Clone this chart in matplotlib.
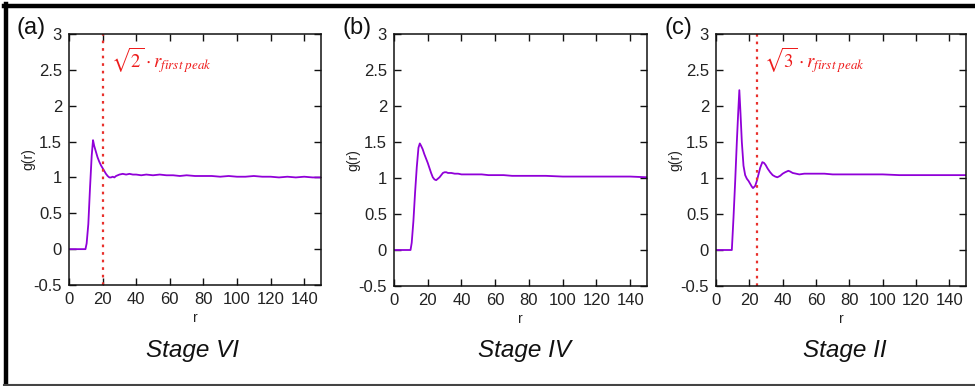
import matplotlib
matplotlib.use("Agg")
import matplotlib.pyplot as plt
from matplotlib.lines import Line2D

plt.rcParams['font.family'] = ['Liberation Sans', 'DejaVu Sans']
plt.rcParams['mathtext.fontset'] = 'stix'

# radial distribution functions g(r) for three stages
r_a = [0, 9.8, 10.5, 11.5, 12.5, 13.5, 14.3, 15, 16, 17, 18, 19, 20, 21, 22, 23, 24, 25,
       26, 27, 28, 30, 32, 34, 36, 38, 40, 43, 46, 50, 54, 58, 62, 66, 70, 75, 80, 85,
       90, 95, 100, 105, 110, 115, 120, 125, 130, 135, 140, 145, 150]
g_a = [0, 0, 0.08, 0.35, 0.85, 1.30, 1.52, 1.44, 1.36, 1.28, 1.22, 1.17, 1.13, 1.09, 1.05,
       1.02, 1.00, 1.00, 1.01, 1.00, 1.02, 1.04, 1.05, 1.04, 1.05, 1.04, 1.04, 1.03, 1.04,
       1.03, 1.04, 1.03, 1.03, 1.02, 1.03, 1.02, 1.02, 1.02, 1.01, 1.02, 1.01, 1.01, 1.02,
       1.01, 1.01, 1.00, 1.01, 1.00, 1.01, 1.00, 1.00]

r_b = [0, 9.8, 10.5, 11.5, 12.5, 13.5, 14.5, 15.3, 16, 17, 18, 19, 20, 21, 22, 23, 24, 25,
       26, 27, 28, 29, 30, 31, 32, 34, 36, 38, 40, 44, 48, 52, 56, 60, 65, 70, 75, 80,
       90, 100, 110, 120, 130, 140, 150]
g_b = [0, 0, 0.10, 0.40, 0.80, 1.15, 1.42, 1.48, 1.45, 1.40, 1.33, 1.27, 1.21, 1.14, 1.07,
       1.01, 0.98, 0.97, 0.99, 1.01, 1.04, 1.07, 1.08, 1.08, 1.07, 1.07, 1.06, 1.06, 1.05,
       1.05, 1.05, 1.05, 1.04, 1.04, 1.04, 1.03, 1.03, 1.03, 1.03, 1.02, 1.02, 1.02, 1.02,
       1.02, 1.01]

r_c = [0, 9.5, 10.5, 11.5, 12.5, 13.3, 14.0, 14.7, 15.5, 16.5, 17.5, 18.5, 19.5, 20.5,
       21.5, 22.2, 23.5, 24.5, 25.5, 26.5, 27.8, 28.8, 29.8, 31, 32.5, 34, 35.5, 36.8,
       38.5, 40, 41.5, 43.4, 44.5, 46, 48, 50, 53, 56, 60, 65, 70, 80, 90, 100, 110, 120,
       130, 140, 150]
g_c = [0, 0, 0.45, 0.95, 1.50, 1.90, 2.22, 1.90, 1.50, 1.17, 1.04, 0.99, 0.96, 0.92, 0.88,
       0.86, 0.89, 0.96, 1.05, 1.14, 1.22, 1.21, 1.18, 1.13, 1.08, 1.04, 1.02, 1.01, 1.03,
       1.06, 1.08, 1.10, 1.09, 1.07, 1.06, 1.05, 1.06, 1.06, 1.06, 1.06, 1.05, 1.05, 1.05,
       1.05, 1.04, 1.04, 1.04, 1.04, 1.04]

panel_tags = ['(a)', '(b)', '(c)']
stage_names = ['Stage VI', 'Stage IV', 'Stage II']
peak_marks = [20.5, None, 24.3]
peak_texts = [r'$\sqrt{2}\cdot r_{first\ peak}$', None, r'$\sqrt{3}\cdot r_{first\ peak}$']
x_ticks = [0, 20, 40, 60, 80, 100, 120, 140]
y_ticks = [-0.5, 0, 0.5, 1, 1.5, 2, 2.5, 3]
y_ticklabels = ['-0.5', '0', '0.5', '1', '1.5', '2', '2.5', '3']

W, H = 975, 386
fig = plt.figure(figsize=(W / 100, H / 100), dpi=100)

# axes boxes in pixels: left, right, top, bottom
boxes = [(69, 321, 34, 285), (394, 647, 34, 286), (716, 966, 34, 286)]
tag_x = [17, 343, 665]
stage_x = [192, 524, 845]

line_color = '#9000d8'
text_color = '#222222'

for i, (rr, gg) in enumerate([(r_a, g_a), (r_b, g_b), (r_c, g_c)]):
    l, r, t, b = boxes[i]
    ax = fig.add_axes([l / W, 1 - b / H, (r - l) / W, (b - t) / H])
    ax.plot(rr, gg, color=line_color, lw=1.3)
    ax.set_xlim(0, 150)
    ax.set_ylim(-0.5, 3)
    ax.set_xticks(x_ticks)
    ax.set_yticks(y_ticks)
    ax.set_yticklabels(y_ticklabels)
    ax.tick_params(direction='in', top=True, right=True, length=5, width=1,
                   labelsize=12, colors='#111111', labelcolor=text_color)
    ax.tick_params(axis='x', pad=5)
    ax.tick_params(axis='y', pad=5)
    for s in ax.spines.values():
        s.set_linewidth(1.1)
        s.set_color('#111111')
    ax.set_xlabel('r', fontsize=10, color=text_color, labelpad=3)
    ax.set_ylabel('g(r)', fontsize=10, color=text_color, labelpad=-1)
    if peak_marks[i] is not None:
        ax.axvline(peak_marks[i], color='#e8302c', lw=1.6, ls=(0, (1.2, 2.2)))
        ax.text(peak_marks[i] + 4.5, 2.62, peak_texts[i], color='#ee1c1c',
                fontsize=13.5, ha='left', va='center')
    fig.text(tag_x[i] / W, 1 - 28 / H, panel_tags[i], fontsize=17, color='#111111',
             ha='left', va='center')
    fig.text(stage_x[i] / W, 1 - 350 / H, stage_names[i], fontsize=17.5, style='italic',
             color='#111111', ha='center', va='center')

# outer frame
fig.add_artist(Line2D([6 / W, 6 / W], [0, 1 - 4 / H], transform=fig.transFigure,
                      color='black', lw=3.2))
fig.add_artist(Line2D([4 / W, 1], [1 - 6 / H, 1 - 6 / H], transform=fig.transFigure,
                      color='black', lw=3.2))
fig.add_artist(Line2D([4 / W, 1], [1.5 / H, 1.5 / H], transform=fig.transFigure,
                      color='#444444', lw=1.5))

fig.savefig('out.png', dpi=100)
